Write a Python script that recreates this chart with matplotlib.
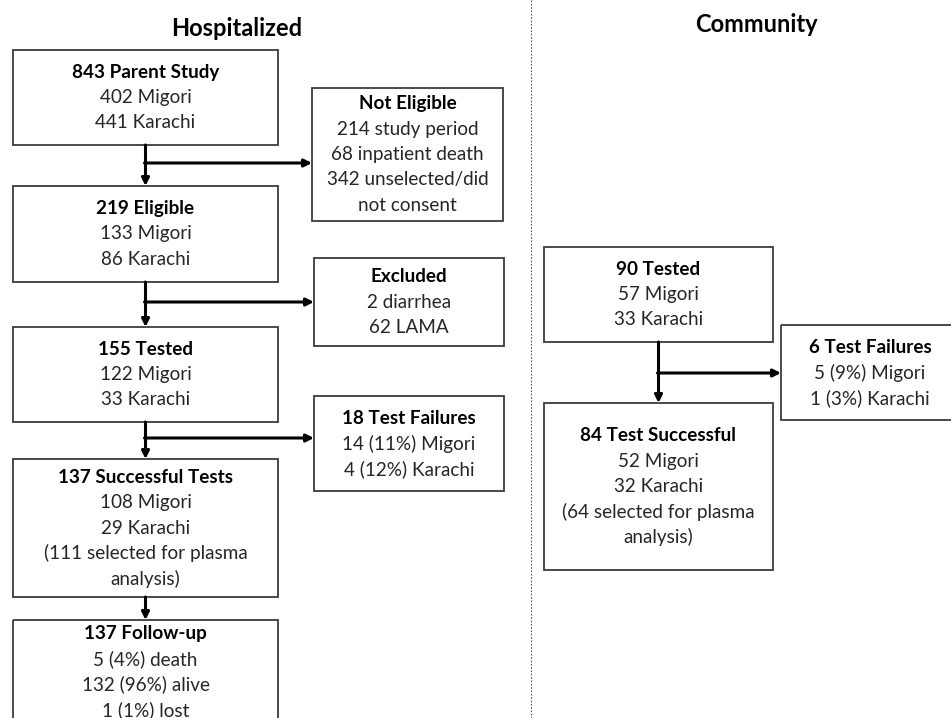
import matplotlib
matplotlib.use("Agg")
import matplotlib.pyplot as plt
from matplotlib.patches import Rectangle

plt.rcParams['font.family'] = ['Lato', 'DejaVu Sans']

# --- flow data (text only) ---
section_titles = ["Hospitalized", "Community"]

parent_study = ["843 Parent Study", "402 Migori", "441 Karachi"]
not_eligible = ["Not Eligible", "214 study period", "68 inpatient death",
                "342 unselected/did", "not consent"]
eligible = ["219 Eligible", "133 Migori", "86 Karachi"]
excluded = ["Excluded", "2 diarrhea", "62 LAMA"]
hosp_tested = ["155 Tested", "122 Migori", "33 Karachi"]
hosp_failures = ["18 Test Failures", "14 (11%) Migori", "4 (12%) Karachi"]
hosp_success = ["137 Successful Tests", "108 Migori", "29 Karachi",
                "(111 selected for plasma", "analysis)"]
follow_up = ["137 Follow-up", "5 (4%) death", "132 (96%) alive", "1 (1%) lost"]
comm_tested = ["90 Tested", "57 Migori", "33 Karachi"]
comm_failures = ["6 Test Failures", "5 (9%) Migori", "1 (3%) Karachi"]
comm_success = ["84 Test Successful", "52 Migori", "32 Karachi",
                "(64 selected for plasma", "analysis)"]

W, H = 951, 718
fig = plt.figure(figsize=(W / 100, H / 100), dpi=100)
ax = fig.add_axes([0, 0, 1, 1])
ax.set_xlim(0, W)
ax.set_ylim(H, 0)
ax.axis('off')

LINE = 25.3
FS = 13.6


def box(x0, x1, y0, y1, lines, text_top=None):
    ax.add_patch(Rectangle((x0, y0), x1 - x0, y1 - y0, fill=False,
                           edgecolor='#3c3c3c', lw=1.3, clip_on=False))
    cx = (x0 + x1) / 2
    if text_top is None:
        text_top = (y0 + y1) / 2 - LINE * (len(lines) - 1) / 2
    for i, s in enumerate(lines):
        ax.text(cx, text_top + i * LINE, s, ha='center', va='center',
                fontsize=FS, color='black' if i == 0 else '#262626',
                fontweight='bold' if i == 0 else 'normal')


def arrow(x0, y0, x1, y1):
    ax.annotate('', xy=(x1, y1), xytext=(x0, y0),
                arrowprops=dict(arrowstyle='-|>', color='black', lw=2.2,
                                mutation_scale=11, shrinkA=0, shrinkB=0))


# titles and separator
ax.text(237, 28, section_titles[0], ha='center', va='center', fontsize=17,
        fontweight='bold', color='black')
ax.text(756, 25, section_titles[1], ha='center', va='center', fontsize=17,
        fontweight='bold', color='black')
ax.plot([531, 531], [0, H], color='#555555', lw=0.8, ls=(0, (1.5, 1.5)))

# hospitalized column
box(13, 278, 50, 145, parent_study)
box(312, 503, 88, 221, not_eligible)
box(13, 278, 186, 282, eligible)
box(314, 504, 258, 346, excluded)
box(13, 278, 327, 422, hosp_tested)
box(314, 504, 396, 491, hosp_failures)
box(13, 278, 459, 597, hosp_success)
box(13, 278, 620, 740, follow_up, text_top=634)

cx = 145.5
arrow(cx, 145, cx, 186)
arrow(cx - 1, 163, 312, 163)
arrow(cx, 282, cx, 327)
arrow(cx - 1, 302, 314, 302)
arrow(cx, 422, cx, 459)
arrow(cx - 1, 438, 314, 438)
arrow(cx, 597, cx, 620)

# community column
box(544, 773, 247, 342, comm_tested)
box(781, 959, 325, 420, comm_failures)
box(544, 773, 403, 570, comm_success)

ccx = 658.5
arrow(ccx, 342, ccx, 403)
arrow(ccx - 1, 373, 781, 373)

fig.savefig('out.png', dpi=100)
